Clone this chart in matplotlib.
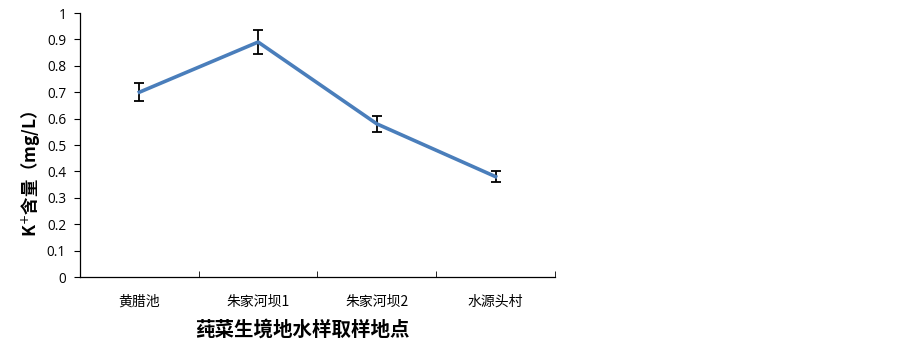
import numpy as np
import matplotlib.pyplot as plt
from matplotlib.ticker import FixedLocator

plt.rcParams['font.family'] = ['Noto Sans CJK SC', 'DejaVu Sans']

sites = ['黄腊池', '朱家河坝1', '朱家河坝2', '水源头村']
k_vals = [0.70, 0.89, 0.58, 0.38]
k_err = [0.035, 0.045, 0.03, 0.02]
y_ticks = [0, 0.1, 0.2, 0.3, 0.4, 0.5, 0.6, 0.7, 0.8, 0.9, 1]
y_tick_labels = ['0', '0.1', '0.2', '0.3', '0.4', '0.5', '0.6', '0.7', '0.8', '0.9', '1']

fig = plt.figure(figsize=(9.03, 3.46), dpi=100)
ax = fig.add_axes([0.0886, 0.1994, 0.526, 0.763])

x = np.arange(len(sites))
ax.errorbar(x, k_vals, yerr=k_err, color='#4A7EBB', lw=2.6,
            ecolor='black', elinewidth=1.3, capsize=3.5, capthick=1.3, zorder=3)

ax.set_xlim(-0.5, len(sites) - 0.5)
ax.set_ylim(0, 1)
ax.set_yticks(y_ticks)
ax.set_yticklabels(y_tick_labels, family=['Open Sans', 'DejaVu Sans'], fontsize=9.8)
ax.set_xticks(x)
ax.set_xticklabels(sites, fontsize=10)
ax.tick_params(axis='x', which='major', length=0, pad=13)
ax.xaxis.set_minor_locator(FixedLocator(np.arange(-0.5, len(sites), 1.0)))
ax.tick_params(axis='x', which='minor', direction='in', length=4, color='black')
ax.tick_params(axis='y', direction='out', length=4, color='black', pad=6)

for s in ['top', 'right']:
    ax.spines[s].set_visible(False)
for s in ['left', 'bottom']:
    ax.spines[s].set_color('black')
    ax.spines[s].set_linewidth(0.9)

fig.text(302 / 903, 1 - 330 / 346, '莼菜生境地水样取样地点', ha='center', va='center',
         fontsize=14, fontweight='bold')
fig.text(30 / 903, 1 - 174 / 346, 'K$^{+}$含量（mg/L）', ha='center', va='center',
         rotation=90, fontsize=12.5, fontweight='bold')

fig.savefig('out.png', dpi=100)
